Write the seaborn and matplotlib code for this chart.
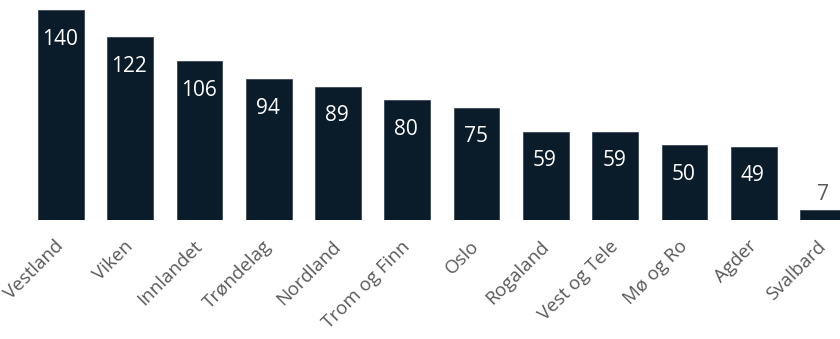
import matplotlib
matplotlib.use("Agg")
import matplotlib.pyplot as plt
import seaborn as sns
import pandas as pd

categories = ["Vestland", "Viken", "Innlandet", "Trøndelag", "Nordland", "Trom og Finn",
              "Oslo", "Rogaland", "Vest og Tele", "Mø og Ro", "Agder", "Svalbard"]
values = [140, 122, 106, 94, 89, 80, 75, 59, 59, 50, 49, 7]

sns.set_theme(style="white")
plt.rcParams['font.family'] = ['Open Sans', 'DejaVu Sans']

df = pd.DataFrame({"region": categories, "count": values})
bar_color = "#0a1b29"

fig = plt.figure(figsize=(8.4, 3.39), dpi=100)
ax = fig.add_axes([0, 0.351, 1, 0.649])
sns.barplot(data=df, x="region", y="count", color=bar_color, width=0.66,
            saturation=1, ax=ax, edgecolor="#3a4756", linewidth=0.6)

ax.set_xlim(-0.88, 11.245)
ax.set_ylim(0, 146.67)
for s in ax.spines.values():
    s.set_visible(False)
ax.set_yticks([])
ax.set_xlabel("")
ax.set_ylabel("")
ax.set_xticks(range(len(categories)))
ax.set_xticklabels(categories, rotation=45, ha="right", va="center",
                   rotation_mode="anchor", fontsize=13.5, color="#595959")
ax.tick_params(axis="x", length=0, pad=17)

for i, v in enumerate(values):
    if v >= 20:
        ax.annotate(str(v), (i, v), xytext=(-1, -29), textcoords="offset pixels",
                    ha="center", va="center", color="white", fontsize=15)
    else:
        ax.annotate(str(v), (i, v), xytext=(0, 15), textcoords="offset pixels",
                    ha="center", va="center", color="#595959", fontsize=15)

fig.savefig("out.png", dpi=100)
